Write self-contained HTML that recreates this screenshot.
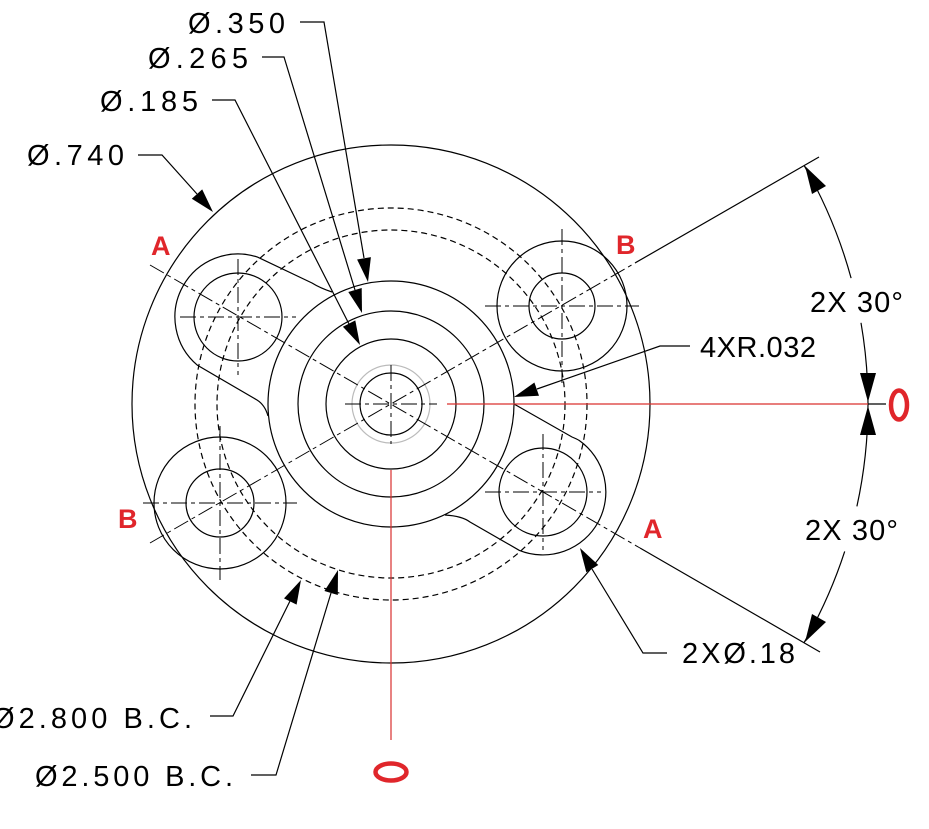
<!DOCTYPE html>
<html><head><meta charset="utf-8"><style>
html,body{margin:0;padding:0;background:#fff;}
svg{display:block;}
text{font-family:"Liberation Sans Narrow","Liberation Sans",sans-serif;}
.t{font-size:29px;fill:#000;font-weight:normal;}
.r{font-size:27px;fill:#e0262b;font-weight:bold;font-family:"Liberation Sans",sans-serif;}
</style></head><body>
<svg width="929" height="829" viewBox="0 0 929 829" xmlns="http://www.w3.org/2000/svg">
<g fill="none" stroke="#000" stroke-width="1.2">
  <circle cx="391" cy="404" r="259"/>
  <circle cx="391" cy="404" r="123"/>
  <circle cx="391" cy="404" r="93"/>
  <circle cx="391" cy="404" r="65"/>
  <circle cx="391" cy="404" r="31"/>
  <circle cx="391" cy="404" r="39" stroke="#bbb"/>
  <circle cx="391" cy="404" r="196" stroke-dasharray="6 4"/>
  <circle cx="391" cy="404" r="174" stroke-dasharray="6 4"/>
  <circle cx="238" cy="317" r="44"/>
  <circle cx="543" cy="492" r="44"/>
  <circle cx="220" cy="503" r="34"/>
  <circle cx="220" cy="503" r="66"/>
  <circle cx="562" cy="306" r="33"/>
  <circle cx="562" cy="306" r="65"/>
  <path d="M332,292 Q320,288 312,283 L257.5,257.1 A63,63 0 0 0 197.5,365.3 L257,400 Q265,405 268,416"/>
  <path d="M514,404 L572,437 Q577,439 579.1,440.4 A63,63 0 0 1 519.4,550.4 L470,522 Q462,516 445,515"/>
  <line x1="640" y1="548" x2="820" y2="652"/>
  <line x1="635" y1="263" x2="819" y2="157"/>
  <path d="M804.1,165.5 A477,477 0 0 1 851.1,278.1"/>
  <path d="M861,322.8 A477,477 0 0 1 868,404"/>
  <path d="M868,404 A477,477 0 0 1 856.9,506.4"/>
  <path d="M844.7,551.4 A477,477 0 0 1 804.1,642.5"/>
  <line x1="868" y1="404" x2="886" y2="404"/>
  <polyline points="300,22 324,22 364,258"/>
  <polyline points="262,57 284,57 355,290"/>
  <polyline points="212,100 235,100 349,324"/>
  <polyline points="138,155 162,155 197,194"/>
  <polyline points="690,346 660,346 537,389"/>
  <polyline points="667,653 643,653 592,569"/>
  <polyline points="210,716 233,716 290,601"/>
  <polyline points="251,775 276,775 331,593"/>
</g>
<g fill="none" stroke="#000" stroke-width="1" stroke-dasharray="16 4 4 4">
  <line x1="150" y1="265" x2="640" y2="548"/>
  <line x1="150" y1="543" x2="635" y2="263"/>
  <line x1="345" y1="404" x2="437" y2="404"/>
  <line x1="391" y1="365" x2="391" y2="444"/>
  <line x1="180" y1="317" x2="296" y2="317"/>
  <line x1="238" y1="259" x2="238" y2="375"/>
  <line x1="485" y1="492" x2="601" y2="492"/>
  <line x1="543" y1="434" x2="543" y2="550"/>
  <line x1="143" y1="503" x2="297" y2="503"/>
  <line x1="220" y1="426" x2="220" y2="580"/>
  <line x1="485" y1="306" x2="639" y2="306"/>
  <line x1="562" y1="229" x2="562" y2="383"/>
</g>
<g stroke="#d9302e" stroke-width="1.2">
  <line x1="447" y1="404" x2="868" y2="404"/>
  <line x1="391" y1="470" x2="391" y2="740"/>
</g>
<g fill="#000">
  <polygon points="368,282 370.9,257.1 357.1,259.5"/>
  <polygon points="362,313 361.7,288 348.3,292"/>
  <polygon points="360,345 355.3,320.4 342.9,326.8"/>
  <polygon points="213,212 202.2,189.4 191.8,198.8"/>
  <polygon points="514,397 539,395.7 534.4,382.5"/>
  <polygon points="580,548 598.3,565 586.3,572.2"/>
  <polygon points="301,580 296.6,604.6 284,598.4"/>
  <polygon points="338,570 337.8,595 324.4,591"/>
  <polygon points="805,166 826,186 812,194"/>
  <polygon points="805,642 826,622 812,614"/>
  <polygon points="868,402 860,373 876,373"/>
  <polygon points="868,406 860,435 876,435"/>
</g>
<g fill="none" stroke="#e0262b" stroke-width="4.5">
  <ellipse cx="899" cy="405" rx="8" ry="14.5"/>
  <ellipse cx="391" cy="772" rx="15.5" ry="8.5"/>
</g>
<text class="t" x="188" y="33" textLength="97" lengthAdjust="spacing">Ø.350</text>
<text class="t" x="148" y="68" textLength="100" lengthAdjust="spacing">Ø.265</text>
<text class="t" x="100" y="111" textLength="98" lengthAdjust="spacing">Ø.185</text>
<text class="t" x="27" y="165" textLength="97" lengthAdjust="spacing">Ø.740</text>
<text class="t" x="810" y="312" textLength="93" lengthAdjust="spacing">2X 30°</text>
<text class="t" x="700" y="357" textLength="116" lengthAdjust="spacing">4XR.032</text>
<text class="t" x="805" y="540" textLength="93" lengthAdjust="spacing">2X 30°</text>
<text class="t" x="682" y="663" textLength="113" lengthAdjust="spacing">2XØ.18</text>
<text class="t" x="-8" y="728" textLength="200" lengthAdjust="spacing">Ø2.800 B.C.</text>
<text class="t" x="35" y="786" textLength="198" lengthAdjust="spacing">Ø2.500 B.C.</text>
<text class="r" x="151" y="255">A</text>
<text class="r" x="616" y="254">B</text>
<text class="r" x="118" y="528">B</text>
<text class="r" x="643" y="538">A</text>
</svg>
</body></html>
